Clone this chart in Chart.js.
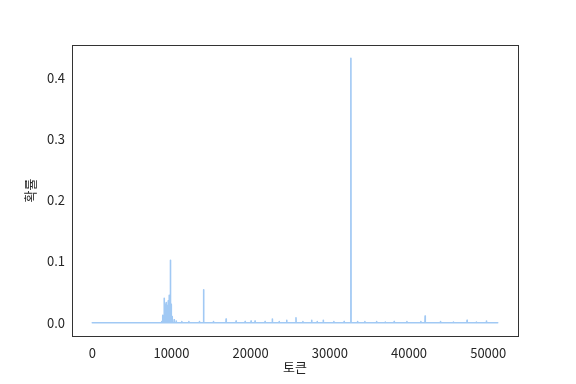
<!DOCTYPE html>
<html>
<head>
<meta charset="utf-8">
<script src="https://cdn.jsdelivr.net/npm/chart.js@4"></script>
<style>
  html, body { margin: 0; padding: 0; background: #fff; }
  #wrap { width: 576px; height: 384px; }
</style>
</head>
<body>
<div id="wrap"><canvas id="probChart" width="576" height="384"></canvas></div>
<script>
var vocabSize = 51200;

// spikes: token index and probability
var spikeTokens = [8760, 8890, 9080, 9206, 9332, 9458, 9584, 9710, 9836, 9960, 10088, 10340, 10600, 11311, 12200, 13531,
  14040, 14060, 14080, 15300, 16898, 18159, 19300, 20050, 20555, 21816, 22736, 23600, 24552, 25725, 26600, 27705, 28400,
  29168, 30500, 31800, 32655, 32661, 33500, 34426, 35902, 37000, 38121, 39723, 41488, 42030, 43972, 45600, 47327, 48500, 49773];
var spikeProbs = [0.002, 0.012, 0.040, 0.030, 0.033, 0.028, 0.036, 0.045, 0.102, 0.030, 0.010, 0.005, 0.003, 0.002, 0.002, 0.002,
  0.048, 0.054, 0.046, 0.002, 0.006, 0.003, 0.002, 0.003, 0.003, 0.002, 0.006, 0.002, 0.004, 0.008, 0.002, 0.004, 0.002,
  0.004, 0.002, 0.002, 0.200, 0.432, 0.002, 0.002, 0.002, 0.001, 0.002, 0.002, 0.002, 0.011, 0.002, 0.001, 0.004, 0.001, 0.003];

var xTicks = [0, 10000, 20000, 30000, 40000, 50000];
var yTicks = [0.0, 0.1, 0.2, 0.3, 0.4];

// line points: zero baseline with the spikes on it
var points = [{x: 0, y: 0}];
for (var i = 0; i < spikeTokens.length; i++) {
  var t = spikeTokens[i];
  var prevT = i > 0 ? spikeTokens[i - 1] : -1000;
  var nextT = i < spikeTokens.length - 1 ? spikeTokens[i + 1] : vocabSize + 1000;
  if (t - prevT > 60) points.push({x: t - 20, y: 0});
  points.push({x: t, y: spikeProbs[i]});
  if (nextT - t > 60) points.push({x: t + 20, y: 0});
}
points.push({x: vocabSize - 1, y: 0});

Chart.defaults.font.family = "'Noto Sans CJK KR', 'Noto Sans', sans-serif";
Chart.defaults.font.size = 13;
Chart.defaults.color = '#262626';

var ctx = document.getElementById('probChart');

var frame = {
  id: 'frame',
  afterDraw: function(chart) {
    var a = chart.chartArea, c = chart.ctx;
    c.save();
    c.strokeStyle = '#333';
    c.lineWidth = 1;
    c.strokeRect(Math.round(a.left) + 0.5, Math.round(a.top) + 0.5,
      Math.round(a.right - a.left), Math.round(a.bottom - a.top));
    c.restore();
  }
};

new Chart(ctx, {
  type: 'line',
  data: {
    datasets: [{
      data: points,
      borderColor: '#a1c9f4',
      borderWidth: 1.6,
      borderJoinStyle: 'round',
      borderCapStyle: 'round',
      pointRadius: 0,
      tension: 0,
      fill: false
    }]
  },
  options: {
    responsive: false,
    animation: false,
    events: [],
    layout: { padding: { left: 0, right: 58, top: 45, bottom: 0 } },
    plugins: { legend: { display: false }, tooltip: { enabled: false } },
    scales: {
      x: {
        type: 'linear',
        min: -2560,
        max: 53760,
        afterBuildTicks: function(scale) { scale.ticks = xTicks.map(function(v) { return {value: v}; }); },
        afterFit: function(scale) { scale.height = 48; },
        grid: { display: false, drawTicks: true, tickLength: 4, tickColor: '#333' },
        border: { display: false },
        ticks: { padding: 5, maxRotation: 0, callback: function(v) { return String(v); } },
        title: { display: true, text: '토큰', padding: { top: 0, bottom: 9 } }
      },
      y: {
        type: 'linear',
        min: -0.0216,
        max: 0.4536,
        afterBuildTicks: function(scale) { scale.ticks = yTicks.map(function(v) { return {value: v}; }); },
        afterFit: function(scale) { scale.width = 72; },
        grid: { display: false, drawTicks: true, tickLength: 4, tickColor: '#333' },
        border: { display: false },
        ticks: { padding: 3, callback: function(v) { return v.toFixed(1); } },
        title: { display: true, text: '확률', padding: { top: 22, bottom: 0 } }
      }
    }
  },
  plugins: [frame]
});
</script>
</body>
</html>
